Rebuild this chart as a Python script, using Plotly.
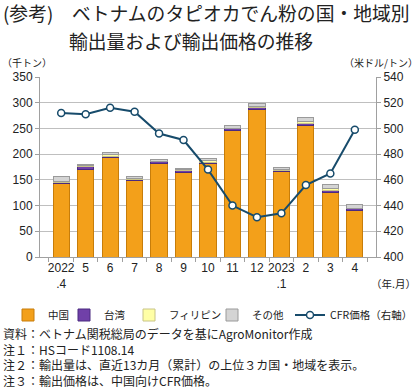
import plotly.graph_objects as go

categories = ["2022<br>.4", "5", "6", "7", "8", "9", "10", "11", "12", "2023<br>.1", "2", "3", "4"]
china = [142, 171, 194, 149, 182, 164, 181, 246, 286, 166, 256, 125, 90]
taiwan = [2, 4.5, 2, 2, 3.5, 5, 3, 3.5, 4.5, 3, 4, 5, 4]
philippines = [3, 1.5, 3, 2, 0.5, 0.5, 3, 1, 2, 1, 3, 4, 1]
others = [10, 3, 5, 4, 3, 2.5, 5, 5.5, 6.5, 4.5, 9, 7, 7]
cfr_price = [512, 511, 516, 513, 496, 491, 468, 440, 431, 434, 456, 465, 499]

FONT = "Noto Sans CJK JP"
NUMFONT = "Liberation Sans, Noto Sans CJK JP"

fig = go.Figure()
fig.add_bar(x=categories, y=china, name="中国", legend="legend",
            marker=dict(color="#F3A01A", line=dict(color="#C77D0A", width=1)))
fig.add_bar(x=categories, y=taiwan, name="台湾", legend="legend2",
            marker=dict(color="#7040A8", line=dict(color="#4A2A80", width=1)))
fig.add_bar(x=categories, y=philippines, name="フィリピン", legend="legend3",
            marker=dict(color="#FFFFA6", line=dict(color="#C8C488", width=1)))
fig.add_bar(x=categories, y=others, name="その他", legend="legend4",
            marker=dict(color="#D4D4D4", line=dict(color="#9A9A9A", width=1)))
fig.add_scatter(x=categories, y=cfr_price, name="CFR価格（右軸）", yaxis="y2", legend="legend5",
                mode="lines+markers",
                line=dict(color="#174B6B", width=2),
                marker=dict(symbol="circle", size=7, color="white",
                            line=dict(color="#174B6B", width=1.5)))

def leg(xpx):
    return dict(orientation="h", x=xpx / 420, y=(389 - 315) / 389,
                xref="container", yref="container",
                xanchor="left", yanchor="middle",
                font=dict(size=10.5, family=FONT), itemwidth=30,
                bgcolor="rgba(0,0,0,0)")

fig.update_layout(
    width=420, height=389,
    margin=dict(l=40, r=44, t=77, b=132, autoexpand=False),
    barmode="stack", bargap=0.34,
    paper_bgcolor="white", plot_bgcolor="white",
    font=dict(family=FONT, size=12, color="#222"),
    showlegend=True,
    legend=leg(8), legend2=leg(64), legend3=leg(129), legend4=leg(212), legend5=leg(290),
    xaxis=dict(type="category", showline=True, linecolor="#A0A0A0", linewidth=1,
               ticks="outside", tickson="boundaries", ticklen=4, tickcolor="#A0A0A0",
               tickangle=0, tickfont=dict(size=12, family=NUMFONT), showgrid=False),
    yaxis=dict(range=[0, 350], dtick=50, showline=True, linecolor="#A0A0A0",
               gridcolor="#BFBFBF", gridwidth=1, ticks="outside", ticklen=4,
               tickcolor="#A0A0A0", tickfont=dict(size=12, family=NUMFONT), zeroline=False),
    yaxis2=dict(range=[400, 540], dtick=20, overlaying="y", side="right",
                showline=True, linecolor="#A0A0A0", showgrid=False,
                ticks="outside", ticklen=4, tickcolor="#A0A0A0",
                tickfont=dict(size=12, family=NUMFONT), zeroline=False),
)

annotations = [
    dict(text="(参考)　ベトナムのタピオカでん粉の国・地域別", x=1, y=13, size=18.8),
    dict(text="輸出量および輸出価格の推移", x=67, y=40, size=18.8),
    dict(text="（千トン）", x=0, y=62, size=10),
    dict(text="資料：ベトナム関税総局のデータを基にAgroMonitor作成", x=1, y=333, size=12),
    dict(text="注１：HSコード1108.14", x=1, y=349, size=12),
    dict(text="注２：輸出量は、直近13カ月（累計）の上位３カ国・地域を表示。", x=1, y=364, size=12),
    dict(text="注３：輸出価格は、中国向けCFR価格。", x=1, y=380, size=12),
]
for a in annotations:
    fig.add_annotation(text=a["text"], xref="paper", yref="paper",
                       x=(a["x"] - 40) / 336, y=(389 - 132 - a["y"]) / 180,
                       xanchor="left", yanchor="middle", showarrow=False,
                       font=dict(size=a["size"], family=FONT, color="#222"))

fig.add_annotation(text="（米ドル/トン）", xref="paper", yref="paper",
                   x=(420 - 40) / 336, y=(389 - 132 - 62) / 180,
                   xanchor="right", yanchor="middle", showarrow=False,
                   font=dict(size=10, family=FONT, color="#222"))
fig.add_annotation(text="（年.月）", xref="paper", yref="paper",
                   x=(418 - 40) / 336, y=(389 - 132 - 283) / 180,
                   xanchor="right", yanchor="middle", showarrow=False,
                   font=dict(size=10.5, family=FONT, color="#222"))

fig.write_html("out.html", config={"displayModeBar": False},
               post_script="document.body.style.margin='0px';")
